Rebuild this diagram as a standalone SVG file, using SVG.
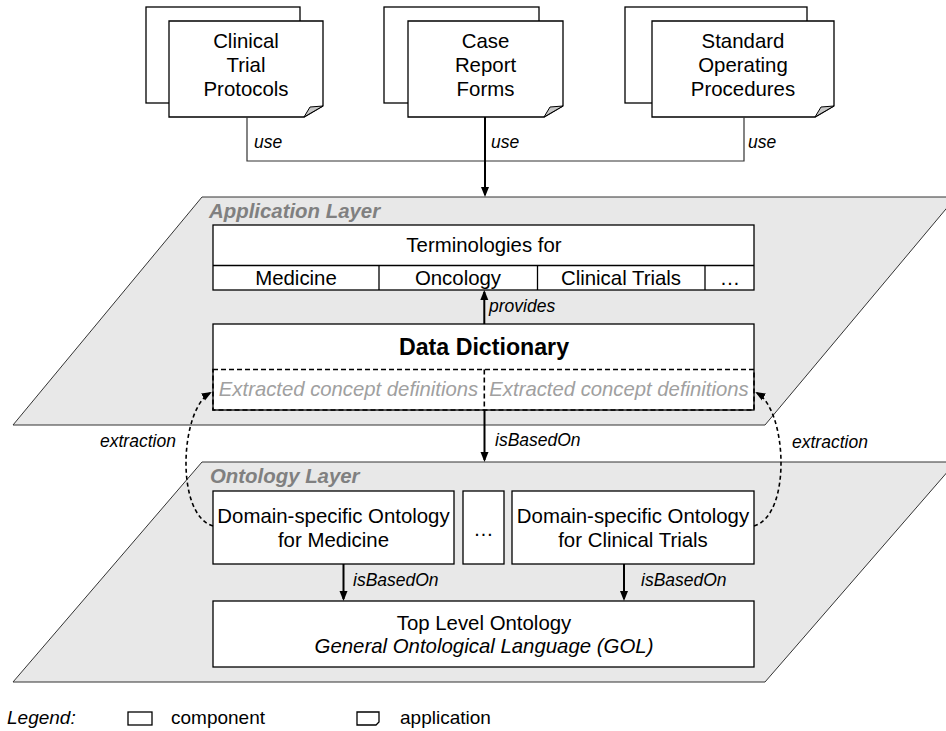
<svg xmlns="http://www.w3.org/2000/svg" width="946" height="731" viewBox="0 0 946 731">
<style>
text{font-family:"Liberation Sans",Arial,sans-serif;fill:#000}
.t{font-size:20.4px;text-anchor:middle}
.lbl{font-size:17.5px;font-style:italic}
.layer{fill:#e8e8e8;stroke:#333;stroke-width:1}
.layertxt{font-size:20.4px;font-weight:bold;font-style:italic;fill:#808080}
.box{fill:#fff;stroke:#000;stroke-width:1.3}
.div{fill:none;stroke:#000;stroke-width:1.3}
.dash{fill:none;stroke:#000;stroke-width:1.6;stroke-dasharray:5,3}
.ext{font-size:20.3px;font-style:italic;fill:#a0a0a0;text-anchor:middle}
.conn{fill:none;stroke:#000;stroke-width:2}
.thin{fill:none;stroke:#333;stroke-width:1.2}
.curve{fill:none;stroke:#000;stroke-width:1.6;stroke-dasharray:4,3}
.fold{fill:#c8c8c8;stroke:#000;stroke-width:1}
</style>
<defs>
<marker id="ah" viewBox="0 0 10 10" refX="8" refY="5" markerWidth="10" markerHeight="10" markerUnits="userSpaceOnUse" orient="auto">
<path d="M0,1 L10,5 L0,9 z" fill="#000"/>
</marker>
<marker id="ahc" viewBox="0 0 10 10" refX="8" refY="5" markerWidth="10" markerHeight="10" markerUnits="userSpaceOnUse" orient="auto">
<path d="M0,1 L10,5 L0,9 z" fill="#000"/>
</marker>
</defs>
<rect width="946" height="731" fill="#fff"/>

<!-- Layers -->
<g id="application-layer">
<polygon class="layer" points="202,197 956,197 765,425 13,425"/>
<text class="layertxt" x="209" y="218">Application Layer</text>
</g>
<g id="ontology-layer">
<polygon class="layer" points="202,462 956,462 765,682 13,682"/>
<text class="layertxt" x="210" y="483">Ontology Layer</text>
</g>

<!-- Documents -->
<g id="doc-ctp">
<rect class="box" x="146" y="7" width="154" height="96"/>
<path class="box" d="M169,21 H323 V106 L304,117 H169 Z"/>
<path class="fold" d="M304,117 L310,107 L323,106 Z"/>
<text class="t" x="246" y="48">Clinical</text>
<text class="t" x="246" y="72">Trial</text>
<text class="t" x="246" y="96">Protocols</text>
</g>
<g id="doc-crf">
<rect class="box" x="384" y="7" width="155" height="96"/>
<path class="box" d="M408,21 H563 V106 L544,117 H408 Z"/>
<path class="fold" d="M544,117 L550,107 L563,106 Z"/>
<text class="t" x="485.5" y="48">Case</text>
<text class="t" x="485.5" y="72">Report</text>
<text class="t" x="485.5" y="96">Forms</text>
</g>
<g id="doc-sop">
<rect class="box" x="625" y="7" width="182" height="96"/>
<path class="box" d="M652,21 H834 V106 L815,117 H652 Z"/>
<path class="fold" d="M815,117 L821,107 L834,106 Z"/>
<text class="t" x="743" y="48">Standard</text>
<text class="t" x="743" y="72">Operating</text>
<text class="t" x="743" y="96">Procedures</text>
</g>

<!-- Terminologies -->
<g id="terminologies">
<rect class="box" x="213" y="225" width="541" height="65"/>
<line class="div" x1="213" y1="265.5" x2="754" y2="265.5"/>
<line class="div" x1="379" y1="265.5" x2="379" y2="290"/>
<line class="div" x1="537.5" y1="265.5" x2="537.5" y2="290"/>
<line class="div" x1="705" y1="265.5" x2="705" y2="290"/>
<text class="t" x="484" y="252">Terminologies for</text>
<text class="t" x="296" y="285">Medicine</text>
<text class="t" x="458" y="285">Oncology</text>
<text class="t" x="621" y="285">Clinical Trials</text>
<text class="t" x="730" y="285">…</text>
</g>

<!-- Data Dictionary -->
<g id="data-dictionary">
<rect class="box" x="213" y="324" width="541" height="86"/>
<rect class="dash" x="213" y="369.5" width="541" height="40.5"/>
<line class="dash" x1="484.3" y1="369.5" x2="484.3" y2="410"/>
<text x="484" y="355" style="font-size:23.2px;font-weight:bold;text-anchor:middle">Data Dictionary</text>
<text class="ext" x="348.5" y="396">Extracted concept definitions</text>
<text class="ext" x="619" y="396">Extracted concept definitions</text>
</g>

<!-- Ontologies -->
<g id="onto-medicine">
<rect class="box" x="213" y="491" width="241" height="73"/>
<text class="t" x="333.5" y="523">Domain-specific Ontology</text>
<text class="t" x="333.5" y="547">for Medicine</text>
</g>
<g id="onto-more">
<rect class="box" x="463" y="491" width="41" height="73"/>
<text class="t" x="483.5" y="536">…</text>
</g>
<g id="onto-clinical">
<rect class="box" x="512" y="491" width="242" height="73"/>
<text class="t" x="633" y="523">Domain-specific Ontology</text>
<text class="t" x="633" y="547">for Clinical Trials</text>
</g>
<g id="top-level">
<rect class="box" x="213" y="601" width="541" height="66"/>
<text class="t" x="484" y="630">Top Level Ontology</text>
<text class="t" x="484" y="653" style="font-style:italic">General Ontological Language (GOL)</text>
</g>

<!-- Connectors -->
<g id="connectors">
<polyline class="thin" points="247,117 247,161 744,161 744,117"/>
<line class="conn" x1="485" y1="117" x2="485" y2="195" marker-end="url(#ah)"/>
<text class="lbl" x="254" y="148">use</text>
<text class="lbl" x="491" y="148">use</text>
<text class="lbl" x="748" y="148">use</text>

<line class="conn" x1="484.3" y1="324" x2="484.3" y2="292" marker-end="url(#ah)"/>
<text class="lbl" x="489" y="312">provides</text>

<line class="conn" x1="484.5" y1="410" x2="484.5" y2="460" marker-end="url(#ah)"/>
<text class="lbl" x="495" y="446">isBasedOn</text>

<line class="conn" x1="343.5" y1="564" x2="343.5" y2="599" marker-end="url(#ah)"/>
<text class="lbl" x="353" y="586">isBasedOn</text>
<line class="conn" x1="624" y1="564" x2="624" y2="599" marker-end="url(#ah)"/>
<text class="lbl" x="641" y="586">isBasedOn</text>

<path class="curve" d="M213,526 C175,515 180,410 210,393" marker-end="url(#ahc)"/>
<text class="lbl" x="100" y="447">extraction</text>
<path class="curve" d="M754,526 C792,515 787,410 757,393" marker-end="url(#ahc)"/>
<text class="lbl" x="792" y="448">extraction</text>
</g>

<!-- Legend -->
<g id="legend">
<text x="7" y="724" style="font-size:19px;font-style:italic">Legend:</text>
<rect class="box" x="128" y="712" width="24" height="13"/>
<text x="171" y="724" style="font-size:19px">component</text>
<path class="box" d="M357,712 H379 V722 L376,725 H357 Z"/>
<text x="400" y="724" style="font-size:19px">application</text>
</g>
</svg>
